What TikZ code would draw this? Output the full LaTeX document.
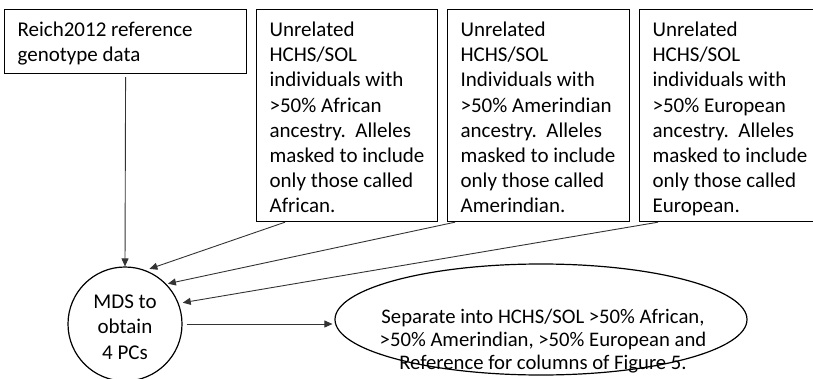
\documentclass[tikz,border=0pt]{standalone}
\usepackage{fontspec}
\setmainfont{Carlito}
\usetikzlibrary{arrows.meta,shapes.geometric}
\newcommand{\boxtxt}[3]{\parbox[c][#2][t]{#1}{\raggedright\leftskip=13pt\rule{0pt}{27pt}#3}}
\tikzset{
  txt/.style={font=\fontsize{21}{25.2}\selectfont},
  flowbox/.style={draw, line width=1.2pt, rectangle, inner sep=0pt, anchor=north west, txt},
  arr/.style={draw=black!80, line width=0.9pt, -{Triangle[length=8pt,width=7pt]}},
}
\begin{document}
\begin{tikzpicture}[x=1pt,y=-1pt]
\useasboundingbox (0,0) rectangle (813,379);
\node[flowbox] (b1) at (4,9) {\boxtxt{242pt}{64pt}{Reich2012 reference\\genotype data}};
\node[flowbox] (b2) at (256,9) {\boxtxt{181pt}{212pt}{Unrelated\\HCHS/SOL\\individuals with\\>50\% African\\ancestry.\ \ Alleles\\masked to include\\only those called\\African.}};
\node[flowbox] (b3) at (447,9) {\boxtxt{182pt}{212pt}{Unrelated\\HCHS/SOL\\Individuals with\\>50\% Amerindian\\ancestry.\ \ Alleles\\masked to include\\only those called\\Amerindian.}};
\node[flowbox] (b4) at (639,9) {\boxtxt{182pt}{212pt}{Unrelated\\HCHS/SOL\\individuals with\\>50\% European\\ancestry.\ \ Alleles\\masked to include\\only those called\\European.}};
\node[draw, circle, line width=1.2pt, minimum size=114pt, inner sep=0pt, align=center, txt] (mds) at (125,324) {\rule{0pt}{20pt}MDS to\\obtain\\4 PCs};
\node[draw, ellipse, line width=1.2pt, minimum width=412pt, minimum height=111pt, inner sep=0pt] (sep) at (541,319.5) {};
\node[align=center, font=\fontsize{20.7}{23.4}\selectfont, inner sep=0pt] (septxt) at (543,341) {Separate into HCHS/SOL >50\% African,\\>50\% Amerindian, >50\% European and\\Reference for columns of Figure 5.};
\draw[arr, shorten <=3pt] (b1.south) -- (mds.north);
\draw[arr, shorten >=4pt] ([xshift=29pt]b2.south west) -- (mds.69);
\draw[arr, shorten >=1.5pt] ([xshift=8pt]b3.south west) -- (mds.44);
\draw[arr, shorten >=4pt] ([xshift=19pt]b4.south west) -- (mds.21);
\draw[arr, shorten <=4pt, shorten >=2pt] (mds.east) -- (mds.east -| sep.west);
\end{tikzpicture}
\end{document}
